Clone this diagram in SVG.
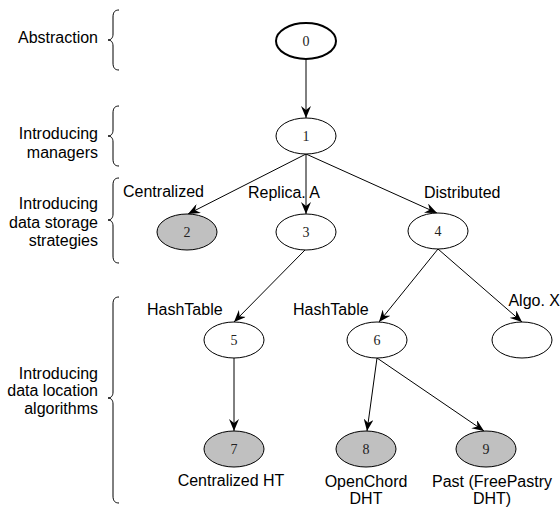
<svg xmlns="http://www.w3.org/2000/svg" width="560" height="508" viewBox="0 0 560 508">
  <style>
    .node { fill: #ffffff; stroke: #000000; stroke-width: 1; }
    .node.root { stroke-width: 2; }
    .node.done { fill: #c0c0c0; }
    .num { font-family: "Liberation Serif", "Times New Roman", serif; font-size: 14px; fill: #222; text-anchor: middle; }
    .lbl { font-family: "Liberation Sans", Arial, sans-serif; font-size: 16px; fill: #000; }
    .lvl { font-family: "Liberation Sans", Arial, sans-serif; font-size: 16px; fill: #000; text-anchor: end; }
    .mid { text-anchor: middle; }
    .end { text-anchor: end; }
    .edge { stroke: #000; stroke-width: 1; fill: none; marker-end: url(#arrow); }
    .brace { stroke: #000; stroke-width: 1; fill: none; }
  </style>
  <defs>
    <marker id="arrow" viewBox="0 0 12 10" refX="12" refY="5" markerWidth="12" markerHeight="10" markerUnits="userSpaceOnUse" orient="auto">
      <path d="M0,0 L12,5 L0,10 L4,5 z" fill="#000"/>
    </marker>
  </defs>

  <!-- level captions with braces -->
  <g id="levels">
    <text class="lvl" x="98" y="43">Abstraction</text>
    <path class="brace" d="M119,10 C115,10 113,12 113,17 L113,34 C113,38 111,40 108,40 C111,40 113,42 113,46 L113,63 C113,68 115,70 119,70"/>

    <text class="lvl" x="98" y="139">Introducing</text>
    <text class="lvl" x="98" y="158">managers</text>
    <path class="brace" d="M119,106 C115,106 113,108 113,113 L113,130 C113,134 111,136 108,136 C111,136 113,138 113,142 L113,159 C113,164 115,166 119,166"/>

    <text class="lvl" x="98" y="209">Introducing</text>
    <text class="lvl" x="98" y="228">data storage</text>
    <text class="lvl" x="98" y="246">strategies</text>
    <path class="brace" d="M119,178 C115,178 113,180 113,185 L113,214 C113,218 111,220 108,220 C111,220 113,222 113,226 L113,256 C113,261 115,263 119,263"/>

    <text class="lvl" x="98" y="379">Introducing</text>
    <text class="lvl" x="98" y="396">data location</text>
    <text class="lvl" x="98" y="414">algorithms</text>
    <path class="brace" d="M119,297 C115,297 113,299 113,304 L113,392 C113,396 111,398 108,398 C111,398 113,400 113,404 L113,496 C113,501 115,503 119,503"/>
  </g>

  <!-- connectors -->
  <g id="edges">
    <line class="edge" x1="306" y1="59" x2="306" y2="118"/>
    <line class="edge" x1="306" y1="154" x2="188" y2="214"/>
    <line class="edge" x1="306" y1="154" x2="306" y2="214"/>
    <line class="edge" x1="306" y1="154" x2="437" y2="213"/>
    <line class="edge" x1="305" y1="250" x2="234" y2="322"/>
    <line class="edge" x1="438" y1="249" x2="379" y2="322"/>
    <line class="edge" x1="438" y1="249" x2="522" y2="322"/>
    <line class="edge" x1="234" y1="358" x2="234" y2="431"/>
    <line class="edge" x1="377" y1="358" x2="367" y2="431"/>
    <line class="edge" x1="377" y1="358" x2="484" y2="431"/>
  </g>

  <!-- edge labels -->
  <g id="edge-labels">
    <text class="lbl" x="123" y="197">Centralized</text>
    <text class="lbl" x="248" y="198">Replica. A</text>
    <text class="lbl" x="424" y="198">Distributed</text>
    <text class="lbl" x="147" y="315">HashTable</text>
    <text class="lbl" x="293" y="315">HashTable</text>
    <text class="lbl end" x="560" y="306">Algo. X</text>
  </g>

  <!-- nodes -->
  <g id="node0"><ellipse class="node root" cx="306" cy="41" rx="30" ry="18"/><text class="num" x="306" y="46">0</text></g>
  <g id="node1"><ellipse class="node" cx="306" cy="136" rx="30" ry="18"/><text class="num" x="306" y="141">1</text></g>
  <g id="node2"><ellipse class="node done" cx="187" cy="232" rx="30" ry="18"/><text class="num" x="187" y="237">2</text></g>
  <g id="node3"><ellipse class="node" cx="306" cy="232" rx="30" ry="18"/><text class="num" x="306" y="237">3</text></g>
  <g id="node4"><ellipse class="node" cx="438" cy="231" rx="30" ry="18"/><text class="num" x="438" y="236">4</text></g>
  <g id="node5"><ellipse class="node" cx="234" cy="340" rx="30" ry="18"/><text class="num" x="234" y="345">5</text></g>
  <g id="node6"><ellipse class="node" cx="377" cy="340" rx="30" ry="18"/><text class="num" x="377" y="345">6</text></g>
  <g id="nodeX"><ellipse class="node" cx="522" cy="340" rx="30" ry="18"/></g>
  <g id="node7"><ellipse class="node done" cx="234" cy="449" rx="30" ry="18"/><text class="num" x="234" y="454">7</text>
    <text class="lbl mid" x="231" y="486">Centralized HT</text></g>
  <g id="node8"><ellipse class="node done" cx="366" cy="449" rx="30" ry="18"/><text class="num" x="366" y="454">8</text>
    <text class="lbl mid" x="366" y="487">OpenChord</text><text class="lbl mid" x="366" y="504">DHT</text></g>
  <g id="node9"><ellipse class="node done" cx="486" cy="449" rx="30" ry="18"/><text class="num" x="486" y="454">9</text>
    <text class="lbl mid" x="492" y="487">Past (FreePastry</text><text class="lbl mid" x="492" y="504">DHT)</text></g>
</svg>
